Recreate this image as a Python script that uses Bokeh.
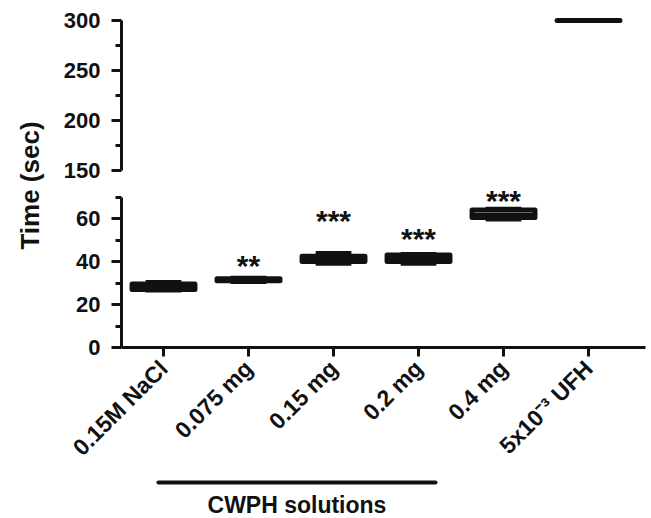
from math import pi
from bokeh.plotting import figure
from bokeh.models import Range1d, FixedTicker, ColumnDataSource, Label
from bokeh.layouts import row, column
from bokeh.embed import file_html
from bokeh.resources import INLINE
from bokeh.core.properties import value

# ---------------- data ----------------
categories = ["0.15M NaCl", "0.075 mg", "0.15 mg", "0.2 mg", "0.4 mg", "5x10\u207b\u00b3 UFH"]
t_min = [26.5, 30.5, 39.0, 39.0, 59.5, 300.0]
t_q1 = [27.0, 31.0, 40.0, 40.0, 60.5, 300.0]
t_med = [28.0, 31.5, 41.0, 41.5, 62.0, 300.0]
t_q3 = [29.5, 32.0, 42.5, 43.0, 64.0, 300.0]
t_max = [30.5, 32.5, 44.0, 43.5, 64.5, 300.0]
sig_idx = [1, 2, 3, 4]
sig_text = ["**", "***", "***", "***"]
sig_y = [38.0, 59.0, 50.5, 68.5]
group_label = "CWPH solutions"
group_idx = [1, 2, 3]
y_label = "Time (sec)"
upper_ticks = [150, 200, 250, 300]
upper_minor = [175, 225, 275]
lower_ticks = [0, 20, 40, 60]
lower_minor = [10, 30, 50, 70]

FONT = "Liberation Sans"
INK = "#111111"
BOX_W = 0.74
CAP_W = 0.42

xs = list(range(len(categories)))
src = ColumnDataSource(dict(
    x=xs, lo=t_min, q1=t_q1, med=t_med, q3=t_q3, hi=t_max,
    xl=[x - BOX_W / 2 for x in xs], xr=[x + BOX_W / 2 for x in xs],
    cl=[x - CAP_W / 2 for x in xs], cr=[x + CAP_W / 2 for x in xs],
))
star_src = ColumnDataSource(dict(x=sig_idx, y=sig_y, t=sig_text))

g0 = min(group_idx) - 1.06
g1 = max(group_idx) + 0.2
group_src = ColumnDataSource(dict(x0=[g0], x1=[g1], xm=[(g0 + g1) / 2], t=[group_label]))

x_range = Range1d(-0.494, 5.67)
W = 589
LB = 63


def style_y(ax, ticks, minor, bounds):
    ax.ticker = FixedTicker(ticks=ticks, minor_ticks=minor)
    ax.bounds = bounds
    ax.axis_line_width = 3
    ax.axis_line_color = INK
    ax.major_tick_line_width = 3
    ax.major_tick_line_color = INK
    ax.minor_tick_line_width = 3
    ax.minor_tick_line_color = INK
    ax.major_tick_out = 10
    ax.major_tick_in = 0
    ax.minor_tick_out = 6
    ax.minor_tick_in = 0
    ax.major_label_standoff = 11
    ax.major_label_text_font = FONT
    ax.major_label_text_font_style = "bold"
    ax.major_label_text_font_size = "22px"
    ax.major_label_text_color = INK


def draw(fig):
    fig.segment(x0="x", y0="lo", x1="x", y1="q1", source=src, line_width=4, line_color=INK)
    fig.segment(x0="x", y0="q3", x1="x", y1="hi", source=src, line_width=4, line_color=INK)
    fig.segment(x0="cl", y0="lo", x1="cr", y1="lo", source=src, line_width=4, line_color=INK)
    fig.segment(x0="cl", y0="hi", x1="cr", y1="hi", source=src, line_width=4, line_color=INK)
    fig.quad(left="xl", right="xr", bottom="q1", top="q3", source=src,
             fill_color="white", line_color=INK, line_width=5, line_join="round")
    fig.segment(x0="xl", y0="med", x1="xr", y1="med", source=src, line_width=3, line_color=INK)


# ---------------- upper panel ----------------
upper = figure(width=W, height=183, x_range=x_range, y_range=Range1d(147, 310),
               x_axis_type=None, output_backend="svg", toolbar_location=None,
               min_border_left=LB, min_border_right=2, min_border_top=10, min_border_bottom=10)
upper.grid.visible = False
upper.outline_line_color = None
style_y(upper.yaxis[0], upper_ticks, upper_minor, (150, 300))
draw(upper)

# ---------------- lower panel ----------------
lower = figure(width=W, height=290, x_range=x_range, y_range=Range1d(0, 76.3),
               output_backend="svg", toolbar_location=None,
               min_border_left=LB, min_border_right=2, min_border_top=0, min_border_bottom=126)
lower.grid.visible = False
lower.outline_line_color = None
style_y(lower.yaxis[0], lower_ticks, lower_minor, (0, 70))
draw(lower)

xa = lower.xaxis[0]
xa.ticker = FixedTicker(ticks=xs, minor_ticks=[])
xa.major_label_overrides = {i: c for i, c in enumerate(categories)}
xa.major_label_orientation = pi / 4
xa.axis_line_width = 3
xa.axis_line_color = INK
xa.major_tick_line_width = 3
xa.major_tick_line_color = INK
xa.major_tick_out = 9
xa.major_tick_in = 0
xa.minor_tick_line_color = None
xa.major_label_standoff = 8
xa.major_label_text_font = FONT
xa.major_label_text_font_style = "bold"
xa.major_label_text_font_size = "23px"
xa.major_label_text_color = INK

lower.text(x="x", y="y", text="t", source=star_src, text_font=value(FONT),
           text_font_size="30px", text_font_style="bold", text_align="center",
           text_baseline="middle", text_color=INK)

# ---------------- group bracket ----------------
brk = figure(width=W, height=45, x_range=x_range, y_range=Range1d(0, 45),
             x_axis_type=None, y_axis_type=None, output_backend="svg",
             toolbar_location=None, min_border_left=LB, min_border_right=2,
             min_border_top=0, min_border_bottom=0)
brk.grid.visible = False
brk.outline_line_color = None
brk.segment(x0="x0", y0=36, x1="x1", y1=36, source=group_src, line_width=4,
            line_color=INK, line_cap="round")
brk.text(x="xm", y=14, text="t", source=group_src, text_font=value(FONT),
         text_font_size="23px", text_font_style="bold", text_align="center",
         text_baseline="middle", text_color=INK)

# ---------------- y-axis title column ----------------
lab = figure(width=58, height=518, x_range=Range1d(0, 1), y_range=Range1d(0, 1),
             x_axis_type=None, y_axis_type=None, output_backend="svg",
             toolbar_location=None, min_border=0)
lab.grid.visible = False
lab.outline_line_color = None
lab.add_layout(Label(x=29, y=333, x_units="screen", y_units="screen", text=y_label,
                     angle=pi / 2, text_align="center", text_baseline="middle",
                     text_font=FONT, text_font_size="26px", text_font_style="bold",
                     text_color=INK))

layout = row(lab, column(upper, lower, brk, spacing=0), spacing=0)
open("out.html", "w").write(file_html(layout, INLINE))
